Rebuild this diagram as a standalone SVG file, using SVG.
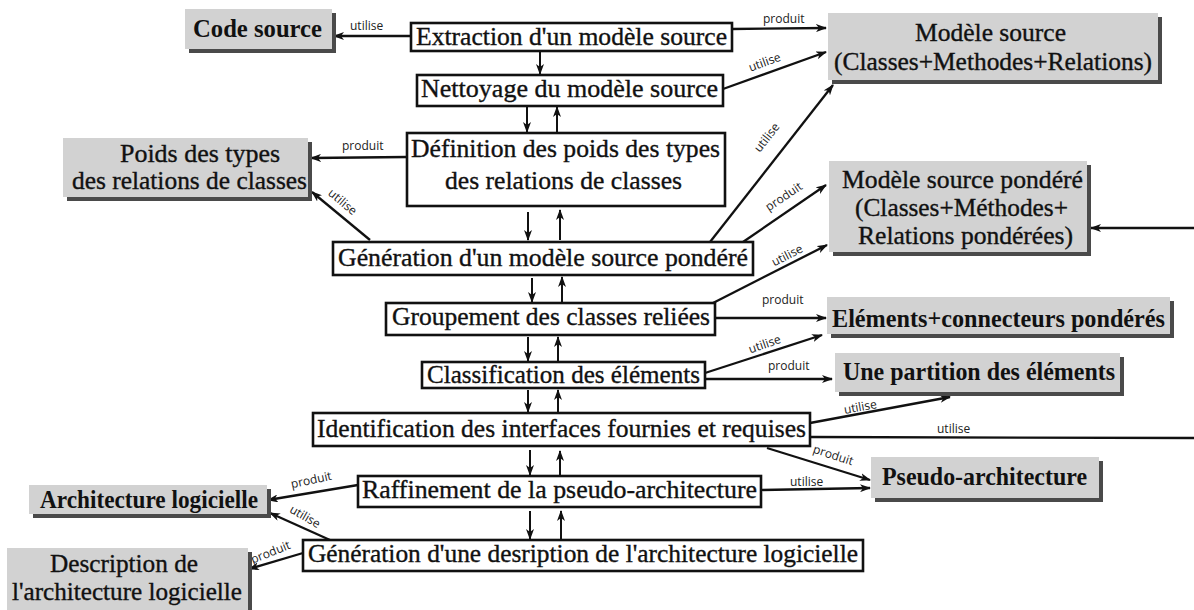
<svg xmlns="http://www.w3.org/2000/svg" width="1194" height="610" viewBox="0 0 1194 610">
<defs>
<marker id="ah" markerWidth="11" markerHeight="8" refX="10" refY="4" orient="auto" markerUnits="userSpaceOnUse">
<path d="M0,0 L11,4 L0,8 L3,4 z" fill="#111"/>
</marker>
<style>
.p{fill:#fff;stroke:#111;stroke-width:2.6}
.g{fill:#d2d2d2}
.sh{fill:#4a4a4a}
.t{font-family:"Liberation Serif","Times New Roman",serif;font-size:25px;fill:#111;stroke:#111;stroke-width:0.35}
.tb{font-family:"Liberation Serif","Times New Roman",serif;font-size:25px;font-weight:bold;fill:#111}
.l{font-family:"Open Sans","Noto Sans",sans-serif;font-size:12px;fill:#222}
.c{fill:none;stroke:#111;stroke-width:2.3;marker-end:url(#ah)}
.cn{fill:none;stroke:#111;stroke-width:2.3}
.v{fill:none;stroke:#111;stroke-width:2;marker-end:url(#ah)}
</style>
</defs>
<rect width="1194" height="610" fill="#fff"/>

<g id="connectors">
<line class="c" x1="411" y1="36" x2="334" y2="36"/>
<line class="c" x1="732" y1="29" x2="826" y2="28"/>
<line class="c" x1="723" y1="89" x2="826" y2="52"/>
<line class="c" x1="407" y1="157" x2="311" y2="158"/>
<line class="c" x1="370" y1="240" x2="312" y2="192"/>
<line class="c" x1="710" y1="242" x2="833" y2="85"/>
<line class="c" x1="743" y1="242" x2="826" y2="185"/>
<line class="c" x1="1194" y1="228" x2="1091" y2="228"/>
<line class="c" x1="713" y1="303" x2="827" y2="245"/>
<line class="c" x1="715" y1="318" x2="826" y2="318"/>
<line class="c" x1="705" y1="373" x2="822" y2="335"/>
<line class="c" x1="705" y1="379" x2="832" y2="379"/>
<line class="c" x1="810" y1="423" x2="950" y2="397"/>
<line class="cn" x1="810" y1="437" x2="1194" y2="438"/>
<line class="c" x1="767" y1="448" x2="870" y2="480"/>
<line class="c" x1="761" y1="490" x2="870" y2="488"/>
<line class="c" x1="358" y1="485" x2="268" y2="500"/>
<line class="c" x1="330" y1="540" x2="270" y2="513"/>
<line class="c" x1="303" y1="553" x2="249" y2="569"/>

<line class="v" x1="540" y1="51" x2="540" y2="74"/>
<line class="v" x1="527" y1="106" x2="527" y2="132"/>
<line class="v" x1="557" y1="133" x2="557" y2="107"/>
<line class="v" x1="528" y1="212" x2="528" y2="240"/>
<line class="v" x1="560" y1="240" x2="560" y2="210"/>
<line class="v" x1="532" y1="278" x2="532" y2="302"/>
<line class="v" x1="562" y1="303" x2="562" y2="277"/>
<line class="v" x1="528" y1="337" x2="528" y2="361"/>
<line class="v" x1="558" y1="362" x2="558" y2="337"/>
<line class="v" x1="528" y1="390" x2="528" y2="412"/>
<line class="v" x1="558" y1="413" x2="558" y2="390"/>
<line class="v" x1="530" y1="450" x2="530" y2="475"/>
<line class="v" x1="560" y1="476" x2="560" y2="451"/>
<line class="v" x1="530" y1="511" x2="530" y2="539"/>
<line class="v" x1="561" y1="540" x2="561" y2="511"/>

<text class="l" x="350" y="30">utilise</text>
<text class="l" x="763" y="23">produit</text>
<text class="l" transform="translate(766,66) rotate(-20)" text-anchor="middle">utilise</text>
<text class="l" x="342" y="150">produit</text>
<text class="l" transform="translate(340,205) rotate(40)" text-anchor="middle">utilise</text>
<text class="l" transform="translate(770,140) rotate(-52)" text-anchor="middle">utilise</text>
<text class="l" transform="translate(786,200) rotate(-34)" text-anchor="middle">produit</text>
<text class="l" transform="translate(789,259) rotate(-27)" text-anchor="middle">utilise</text>
<text class="l" x="762" y="304">produit</text>
<text class="l" transform="translate(766,348) rotate(-19)" text-anchor="middle">utilise</text>
<text class="l" x="768" y="370">produit</text>
<text class="l" transform="translate(861,411) rotate(-10)" text-anchor="middle">utilise</text>
<text class="l" x="937" y="433">utilise</text>
<text class="l" transform="translate(832,459) rotate(18)" text-anchor="middle">produit</text>
<text class="l" x="790" y="486">utilise</text>
<text class="l" transform="translate(312,484) rotate(-12)" text-anchor="middle">produit</text>
<text class="l" transform="translate(303,520) rotate(30)" text-anchor="middle">utilise</text>
<text class="l" transform="translate(272,556) rotate(-22)" text-anchor="middle">produit</text>
</g>

<g id="extraction"><rect class="p" x="411" y="23" width="321" height="28"/><text class="t" x="416" y="45" textLength="311" lengthAdjust="spacingAndGlyphs">Extraction d'un modèle source</text></g>
<g id="nettoyage"><rect class="p" x="417" y="75" width="306" height="31"/><text class="t" x="421" y="97" textLength="297" lengthAdjust="spacingAndGlyphs">Nettoyage du modèle source</text></g>
<g id="definition"><rect class="p" x="407" y="133" width="318" height="73"/><text class="t" x="411" y="157" textLength="309" lengthAdjust="spacingAndGlyphs">Définition des poids des types</text><text class="t" x="445" y="189" textLength="237" lengthAdjust="spacingAndGlyphs">des relations de classes</text></g>
<g id="generation-pondere"><rect class="p" x="333" y="242" width="420" height="33"/><text class="t" x="338" y="266" textLength="410" lengthAdjust="spacingAndGlyphs">Génération d'un modèle source pondéré</text></g>
<g id="groupement"><rect class="p" x="386" y="303" width="329" height="32"/><text class="t" x="392" y="325" textLength="318" lengthAdjust="spacingAndGlyphs">Groupement des classes reliées</text></g>
<g id="classification"><rect class="p" x="422" y="362" width="283" height="26"/><text class="t" x="427" y="383" textLength="273" lengthAdjust="spacingAndGlyphs">Classification des éléments</text></g>
<g id="identification"><rect class="p" x="313" y="413" width="497" height="33"/><text class="t" x="317" y="437" textLength="489" lengthAdjust="spacingAndGlyphs">Identification des interfaces fournies et requises</text></g>
<g id="raffinement"><rect class="p" x="358" y="476" width="403" height="31"/><text class="t" x="362" y="498" textLength="395" lengthAdjust="spacingAndGlyphs">Raffinement de la pseudo-architecture</text></g>
<g id="generation-description"><rect class="p" x="303" y="540" width="560" height="31"/><text class="t" x="308" y="562" textLength="550" lengthAdjust="spacingAndGlyphs">Génération d'une desription de l'architecture logicielle</text></g>

<g id="code-source"><rect class="sh" x="189" y="13" width="147" height="40"/><rect class="g" x="185" y="9" width="147" height="40"/><text class="tb" x="193" y="37" textLength="129" lengthAdjust="spacingAndGlyphs">Code source</text></g>
<g id="modele-source"><rect class="sh" x="832" y="17" width="330" height="67"/><rect class="g" x="828" y="13" width="330" height="67"/><text class="t" x="915" y="41" textLength="151" lengthAdjust="spacingAndGlyphs">Modèle source</text><text class="t" x="834" y="70" textLength="318" lengthAdjust="spacingAndGlyphs">(Classes+Methodes+Relations)</text></g>
<g id="poids"><rect class="sh" x="67" y="142" width="245" height="59"/><rect class="g" x="63" y="138" width="245" height="59"/><text class="t" x="120" y="162" textLength="160" lengthAdjust="spacingAndGlyphs">Poids des types</text><text class="t" x="72" y="189" textLength="235" lengthAdjust="spacingAndGlyphs">des relations de classes</text></g>
<g id="modele-pondere"><rect class="sh" x="833" y="165" width="258" height="91"/><rect class="g" x="829" y="161" width="258" height="91"/><text class="t" x="842" y="188" textLength="241" lengthAdjust="spacingAndGlyphs">Modèle source pondéré</text><text class="t" x="855" y="216" textLength="213" lengthAdjust="spacingAndGlyphs">(Classes+Méthodes+</text><text class="t" x="858" y="244" textLength="215" lengthAdjust="spacingAndGlyphs">Relations pondérées)</text></g>
<g id="elements"><rect class="sh" x="831" y="301" width="343" height="37"/><rect class="g" x="827" y="297" width="343" height="37"/><text class="tb" x="832" y="327" textLength="333" lengthAdjust="spacingAndGlyphs">Eléments+connecteurs pondérés</text></g>
<g id="partition"><rect class="sh" x="839" y="357" width="285" height="39"/><rect class="g" x="835" y="353" width="285" height="39"/><text class="tb" x="843" y="380" textLength="272" lengthAdjust="spacingAndGlyphs">Une partition des éléments</text></g>
<g id="pseudo"><rect class="sh" x="875" y="461" width="228" height="41"/><rect class="g" x="871" y="457" width="228" height="41"/><text class="tb" x="882" y="485" textLength="205" lengthAdjust="spacingAndGlyphs">Pseudo-architecture</text></g>
<g id="architecture"><rect class="sh" x="33" y="489" width="238" height="29"/><rect class="g" x="29" y="485" width="238" height="29"/><text class="tb" x="40" y="508" textLength="218" lengthAdjust="spacingAndGlyphs">Architecture logicielle</text></g>
<g id="description"><rect class="sh" x="11" y="552" width="241" height="64"/><rect class="g" x="7" y="548" width="241" height="64"/><text class="t" x="50" y="572" textLength="148" lengthAdjust="spacingAndGlyphs">Description de</text><text class="t" x="12" y="600" textLength="230" lengthAdjust="spacingAndGlyphs">l'architecture logicielle</text></g>
</svg>
